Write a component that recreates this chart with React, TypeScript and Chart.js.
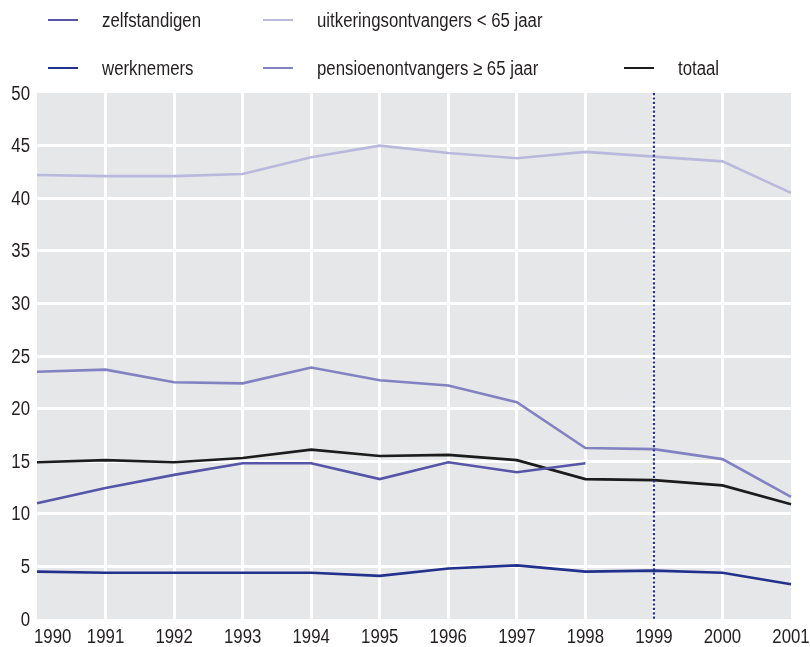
import React, { useEffect, useRef } from "react";
import { Chart, registerables } from "chart.js";

Chart.register(...registerables);

const years = ["1990", "1991", "1992", "1993", "1994", "1995", "1996", "1997", "1998", "1999", "2000", "2001"];
const zelfstandigen = [11.0, 12.45, 13.7, 14.8, 14.8, 13.3, 14.9, 13.95, 14.8, null, null, null];
const uitkeringsontvangers = [42.2, 42.1, 42.1, 42.3, 43.9, 45.0, 44.3, 43.8, 44.4, 43.95, 43.5, 40.5];
const pensioenontvangers = [23.5, 23.7, 22.5, 22.4, 23.9, 22.7, 22.2, 20.6, 16.25, 16.15, 15.2, 11.6];
const werknemers = [4.5, 4.4, 4.4, 4.4, 4.4, 4.1, 4.8, 5.1, 4.5, 4.6, 4.4, 3.3];
const totaal = [14.9, 15.1, 14.9, 15.3, 16.1, 15.5, 15.6, 15.1, 13.3, 13.2, 12.7, 10.9];
const yTicks = [0, 5, 10, 15, 20, 25, 30, 35, 40, 45, 50];
const markerYear = "1999";

const FONT = "'Liberation Sans', Arial, sans-serif";
const TEXT = "#231f20";
const FS = 20;
const SX = 0.84;

const series = [
  { label: "zelfstandigen", data: zelfstandigen, color: "#5656a8" },
  { label: "werknemers", data: werknemers, color: "#22318c" },
  { label: "uitkeringsontvangers < 65 jaar", data: uitkeringsontvangers, color: "#b9b9de" },
  { label: "pensioenontvangers \u2265 65 jaar", data: pensioenontvangers, color: "#8282c2" },
  { label: "totaal", data: totaal, color: "#1c1c1c" },
];

const legendLayout = [
  { idx: 0, left: 48, top: 20 },
  { idx: 2, left: 263, top: 20 },
  { idx: 1, left: 48, top: 68 },
  { idx: 3, left: 263, top: 68 },
  { idx: 4, left: 624, top: 68 },
];

function drawText(ctx: CanvasRenderingContext2D, text: string, x: number, y: number, align: CanvasTextAlign) {
  ctx.save();
  ctx.translate(x, y);
  ctx.scale(SX, 1);
  ctx.textAlign = align;
  ctx.fillText(text, 0, 0);
  ctx.restore();
}

export default function App() {
  const ref = useRef<HTMLCanvasElement | null>(null);

  useEffect(() => {
    if (!ref.current) return;
    const bgPlugin = {
      id: "bg",
      beforeDraw(chart: any) {
        const { ctx, chartArea } = chart;
        ctx.save();
        ctx.fillStyle = "#e6e7e8";
        ctx.fillRect(chartArea.left, chartArea.top, chartArea.right - chartArea.left, chartArea.bottom - chartArea.top);
        ctx.restore();
      },
      afterDatasetsDraw(chart: any) {
        const { ctx, chartArea, scales } = chart;
        const x = scales.x.getPixelForValue(years.indexOf(markerYear));
        ctx.save();
        ctx.strokeStyle = "#22318c";
        ctx.lineWidth = 2.2;
        ctx.setLineDash([2.2, 2.2]);
        ctx.beginPath();
        ctx.moveTo(x, chartArea.top);
        ctx.lineTo(x, chartArea.bottom);
        ctx.stroke();
        ctx.restore();
      },
      afterDraw(chart: any) {
        const { ctx, chartArea, scales } = chart;
        ctx.save();
        ctx.fillStyle = TEXT;
        ctx.font = `${FS}px ${FONT}`;
        ctx.textBaseline = "middle";
        years.forEach((y, i) => {
          const px = scales.x.getPixelForValue(i);
          if (i === 0) drawText(ctx, y, px - 3, chartArea.bottom + 18, "left");
          else drawText(ctx, y, px, chartArea.bottom + 18, "center");
        });
        yTicks.forEach((v) => {
          const py = scales.y.getPixelForValue(v);
          drawText(ctx, String(v), chartArea.left - 7, py + 1, "right");
        });
        ctx.restore();
      },
    };

    const n = years.length;
    const chart = new Chart(ref.current, {
      type: "line",
      data: {
        labels: years,
        datasets: series.map((s) => ({
          label: s.label,
          data: s.data,
          borderColor: s.color,
          backgroundColor: s.color,
          borderWidth: 2.6,
          pointRadius: 0,
          tension: 0,
          spanGaps: false,
        })),
      },
      options: {
        animation: false,
        responsive: false,
        maintainAspectRatio: false,
        layout: { padding: { top: 93, right: 19, left: 0, bottom: 0 } },
        plugins: { legend: { display: false }, tooltip: { enabled: false } },
        scales: {
          x: {
            type: "category",
            offset: false,
            border: { display: false },
            grid: {
              drawTicks: false,
              lineWidth: 3,
              color: (c: any) => (c.index === 0 || c.index === n - 1 ? "rgba(0,0,0,0)" : "#ffffff"),
            },
            ticks: { display: false },
            afterFit(scale: any) {
              scale.height = 28;
            },
          },
          y: {
            min: 0,
            max: 50,
            border: { display: false },
            grid: {
              drawTicks: false,
              lineWidth: 3,
              color: (c: any) => (c.tick && (c.tick.value === 0 || c.tick.value === 50) ? "rgba(0,0,0,0)" : "#ffffff"),
            },
            ticks: { stepSize: 5, display: false },
            afterFit(scale: any) {
              scale.width = 37;
            },
          },
        },
      },
      plugins: [bgPlugin],
    });
    return () => chart.destroy();
  }, []);

  return (
    <div style={{ position: "absolute", left: 0, top: 0, width: 810, height: 647, background: "#fff", fontFamily: FONT }}>
      <canvas ref={ref} width={810} height={647} style={{ position: "absolute", left: 0, top: 0, width: 810, height: 647 }} />
      {legendLayout.map((l) => {
        const s = series[l.idx];
        return (
          <div key={s.label} style={{ position: "absolute", left: l.left, top: l.top - 12, height: 24, display: "flex", alignItems: "center", whiteSpace: "nowrap" }}>
            <span style={{ display: "inline-block", width: 30, height: 2.6, background: s.color }} />
            <span style={{ marginLeft: 24, fontSize: FS, color: TEXT, lineHeight: "24px", display: "inline-block", transform: `scaleX(${SX})`, transformOrigin: "left center" }}>{s.label}</span>
          </div>
        );
      })}
    </div>
  );
}
